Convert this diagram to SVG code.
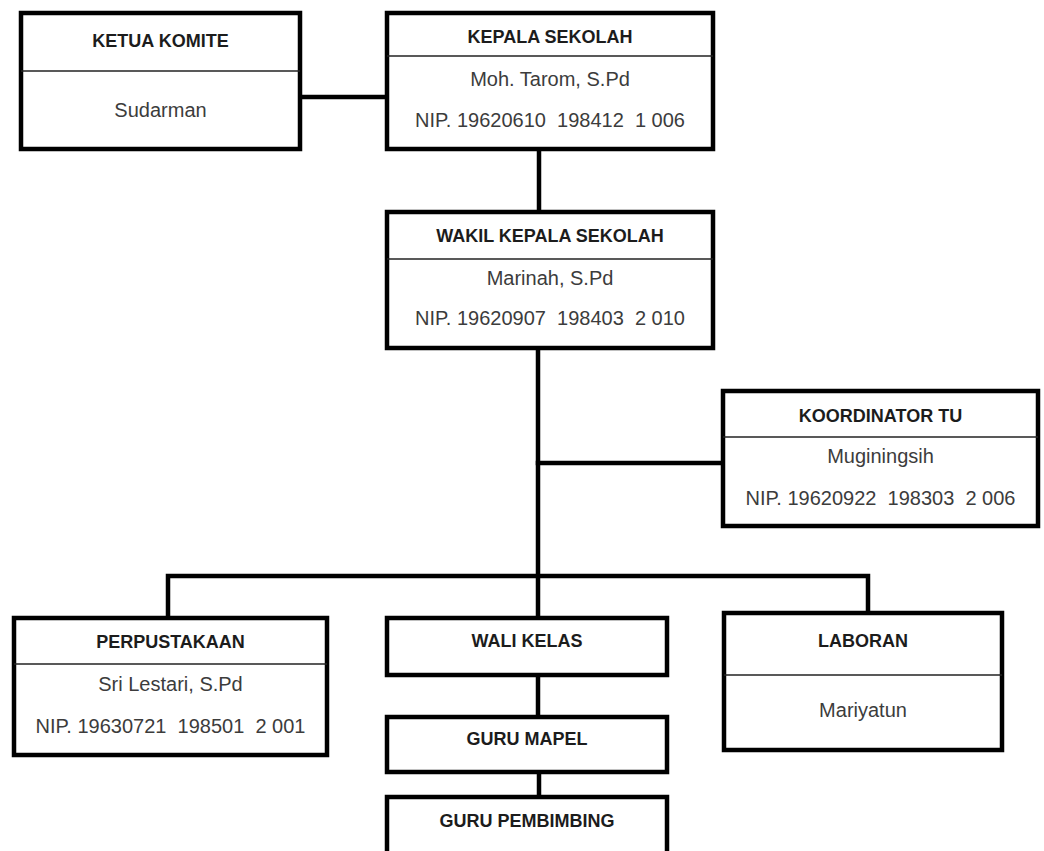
<svg xmlns="http://www.w3.org/2000/svg" width="1044" height="851" viewBox="0 0 1044 851" xml:space="preserve">
<style>
.box{fill:#fff;stroke:#000;stroke-width:4.5}
.div{stroke:#222;stroke-width:1.6}
.con{stroke:#000;stroke-width:4.5;fill:none;stroke-linecap:square}
.t{font-family:"Liberation Sans",Arial,sans-serif;font-size:18px;font-weight:bold;fill:#1c1c1c;text-anchor:middle;white-space:pre}
.b{font-family:"Liberation Sans",Arial,sans-serif;font-size:20px;fill:#3c3c3c;text-anchor:middle;white-space:pre}
</style>
<rect width="1044" height="851" fill="#fff"/>
<g id="connectors">
<line class="con" x1="300" y1="97" x2="387" y2="97"/>
<line class="con" x1="539" y1="149" x2="539" y2="212"/>
<line class="con" x1="538" y1="348" x2="538" y2="618"/>
<line class="con" x1="538" y1="463" x2="723" y2="463"/>
<polyline class="con" points="168,618 168,576 868,576 868,613"/>
<line class="con" x1="538" y1="675" x2="538" y2="717"/>
<line class="con" x1="539" y1="772" x2="539" y2="797"/>
</g>
<g id="ketua-komite">
<rect class="box" x="21" y="13" width="279" height="136"/>
<line class="div" x1="21" y1="71" x2="300" y2="71"/>
<text class="t" x="160.5" y="47">KETUA KOMITE</text>
<text class="b" x="160.5" y="117">Sudarman</text>
</g>
<g id="kepala-sekolah">
<rect class="box" x="387" y="13" width="326" height="136"/>
<line class="div" x1="387" y1="56" x2="713" y2="56"/>
<text class="t" x="550" y="43">KEPALA SEKOLAH</text>
<text class="b" x="550" y="86">Moh. Tarom, S.Pd</text>
<text class="b" x="550" y="127">NIP. 19620610  198412  1 006</text>
</g>
<g id="wakil-kepala-sekolah">
<rect class="box" x="387" y="212" width="326" height="136"/>
<line class="div" x1="387" y1="259" x2="713" y2="259"/>
<text class="t" x="550" y="242">WAKIL KEPALA SEKOLAH</text>
<text class="b" x="550" y="285">Marinah, S.Pd</text>
<text class="b" x="550" y="325">NIP. 19620907  198403  2 010</text>
</g>
<g id="koordinator-tu">
<rect class="box" x="723" y="391" width="315" height="135"/>
<line class="div" x1="723" y1="437" x2="1038" y2="437"/>
<text class="t" x="880.5" y="422">KOORDINATOR TU</text>
<text class="b" x="880.5" y="463">Muginingsih</text>
<text class="b" x="880.5" y="505">NIP. 19620922  198303  2 006</text>
</g>
<g id="perpustakaan">
<rect class="box" x="14" y="618" width="313" height="137"/>
<line class="div" x1="14" y1="664" x2="327" y2="664"/>
<text class="t" x="170.5" y="648">PERPUSTAKAAN</text>
<text class="b" x="170.5" y="691">Sri Lestari, S.Pd</text>
<text class="b" x="170.5" y="733">NIP. 19630721  198501  2 001</text>
</g>
<g id="wali-kelas">
<rect class="box" x="387" y="618" width="280" height="57"/>
<text class="t" x="527" y="647">WALI KELAS</text>
</g>
<g id="guru-mapel">
<rect class="box" x="387" y="717" width="280" height="55"/>
<text class="t" x="527" y="745">GURU MAPEL</text>
</g>
<g id="guru-pembimbing">
<rect class="box" x="387" y="797" width="280" height="80"/>
<text class="t" x="527" y="827">GURU PEMBIMBING</text>
</g>
<g id="laboran">
<rect class="box" x="724" y="613" width="278" height="137"/>
<line class="div" x1="724" y1="675" x2="1002" y2="675"/>
<text class="t" x="863" y="647">LABORAN</text>
<text class="b" x="863" y="717">Mariyatun</text>
</g>
</svg>
